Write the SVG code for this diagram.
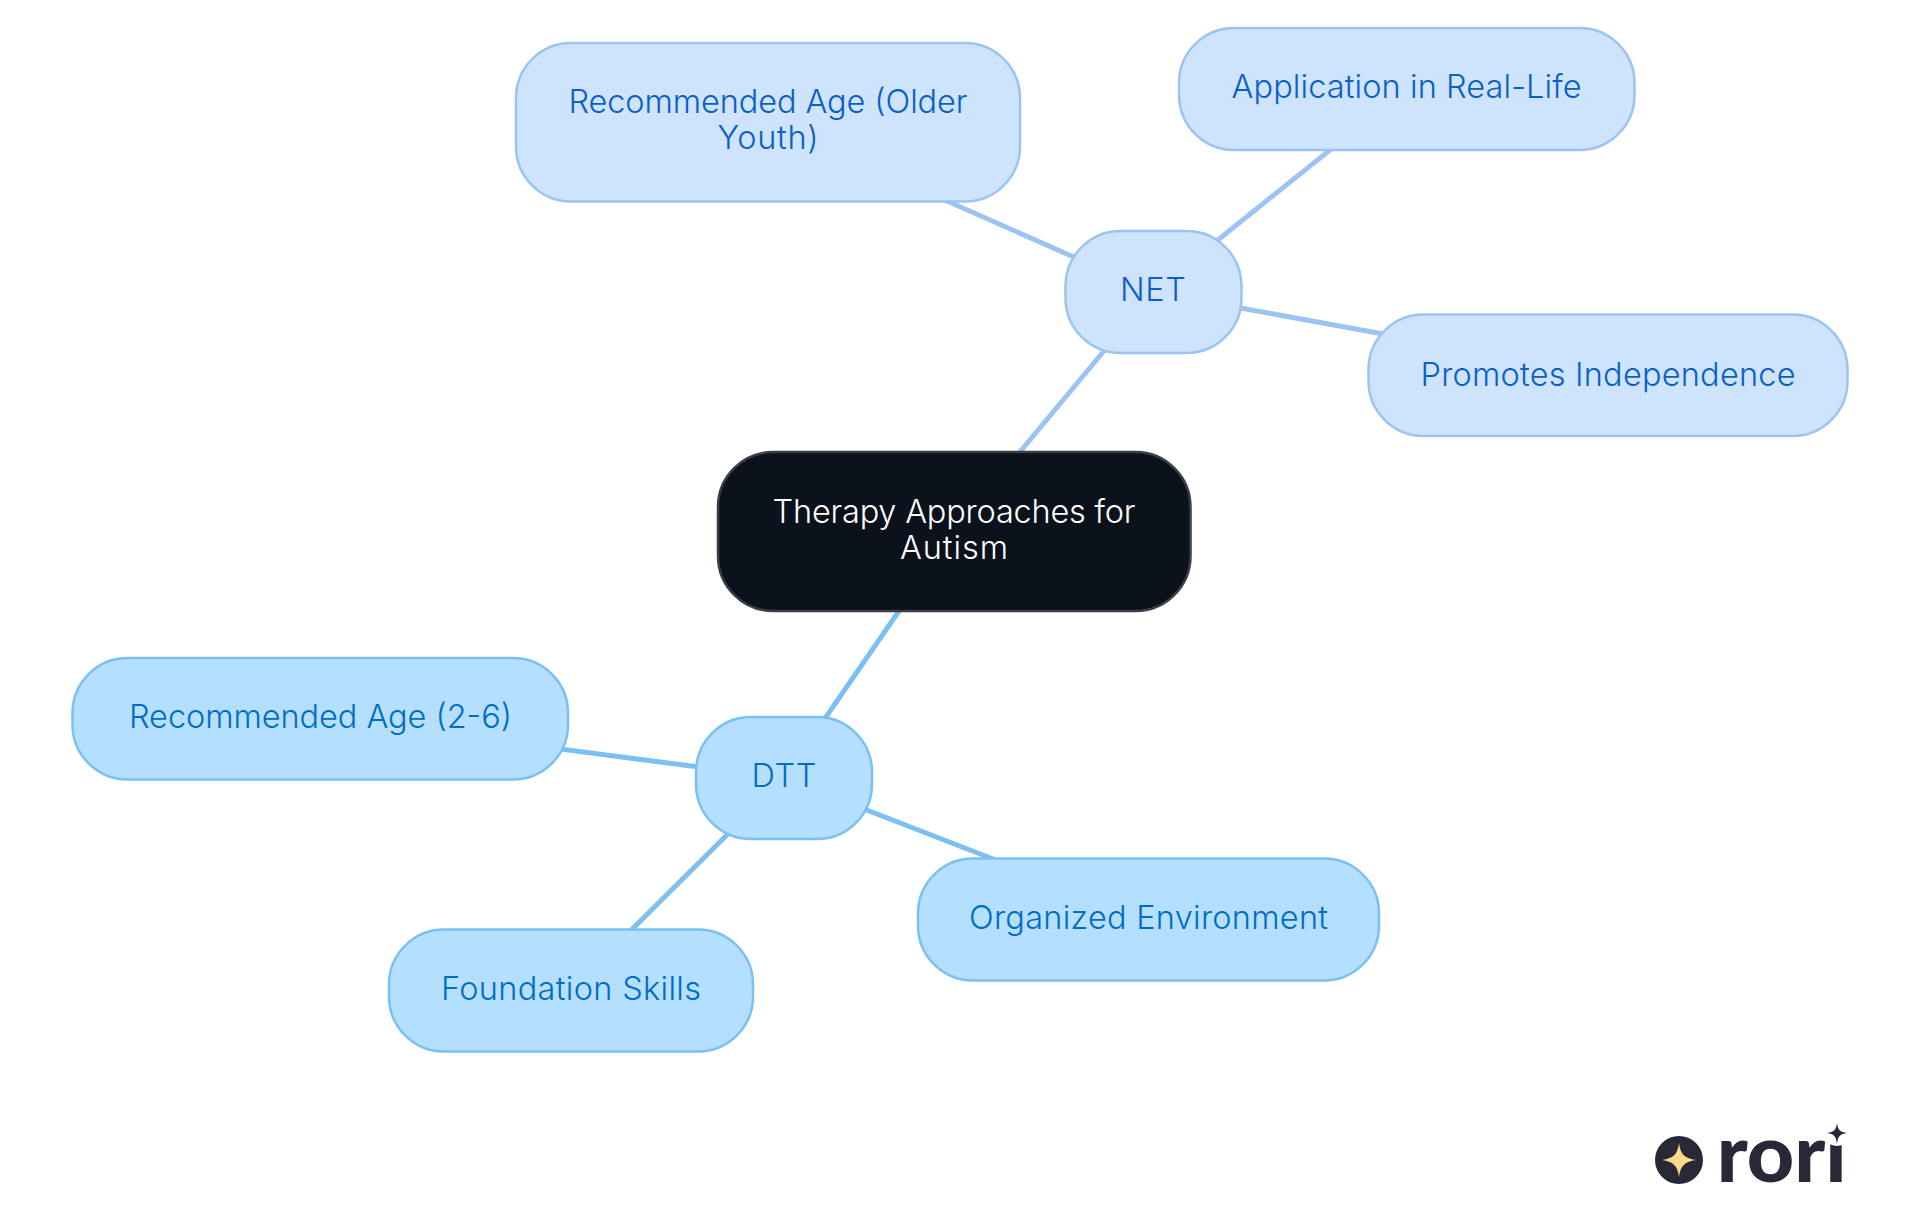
<svg xmlns="http://www.w3.org/2000/svg" width="1920" height="1215" viewBox="0 0 1920 1215">
<style>
text{font-family:"Inter","Noto Sans","Liberation Sans",sans-serif;font-size:32.5px;font-weight:300;text-anchor:middle}
.root rect{fill:#0b121b;stroke:#3a3f47;stroke-width:2.500}
.root text{fill:#ffffff}
.net rect{fill:#cee3fc;stroke:#9cc4f2;stroke-width:2.500}
.net text{fill:#0a5fc8}
.dtt rect{fill:#b5dfff;stroke:#7cc0f3;stroke-width:2.500}
.dtt text{fill:#006dc4}
.c-net{stroke:#9cc4f2;stroke-width:5;fill:none}
.c-dtt{stroke:#7cc0f3;stroke-width:5;fill:none}
.logo{fill:#282837}
</style>
<rect width="1920" height="1215" fill="#ffffff"/>
<g id="connectors">
<line class="c-net" x1="954" y1="531" x2="1153" y2="292"/>
<line class="c-net" x1="1153" y1="292" x2="768" y2="122"/>
<line class="c-net" x1="1153" y1="292" x2="1406" y2="89"/>
<line class="c-net" x1="1153" y1="292" x2="1608" y2="375"/>
<line class="c-dtt" x1="954" y1="531" x2="784" y2="778"/>
<line class="c-dtt" x1="784" y1="778" x2="320" y2="718"/>
<line class="c-dtt" x1="784" y1="778" x2="571" y2="990"/>
<line class="c-dtt" x1="784" y1="778" x2="1148" y2="919"/>
</g>
<g id="root" class="root">
<rect x="718" y="452" width="472.500" height="159" rx="55"/>
<text x="954" y="522.700" textLength="363">Therapy Approaches for</text>
<text x="954" y="559" textLength="108">Autism</text>
</g>
<g id="net" class="net">
<rect x="1065.500" y="231" width="176" height="122" rx="55"/>
<text x="1153" y="300.700" textLength="66">NET</text>
</g>
<g id="net-age" class="net">
<rect x="516" y="43" width="504" height="158.500" rx="55"/>
<text x="768" y="112.700" textLength="399">Recommended Age (Older</text>
<text x="768" y="149.300" textLength="101">Youth)</text>
</g>
<g id="net-application" class="net">
<rect x="1179" y="28" width="455.500" height="122" rx="55"/>
<text x="1406.500" y="97.700" textLength="350">Application in Real-Life</text>
</g>
<g id="net-independence" class="net">
<rect x="1368.500" y="314.500" width="479" height="121.500" rx="55"/>
<text x="1608" y="385.700" textLength="375">Promotes Independence</text>
</g>
<g id="dtt" class="dtt">
<rect x="696" y="717" width="176" height="122" rx="55"/>
<text x="784" y="786.700" textLength="65">DTT</text>
</g>
<g id="dtt-age" class="dtt">
<rect x="72.500" y="658" width="495.500" height="121.500" rx="55"/>
<text x="320.500" y="727.700" textLength="383">Recommended Age (2-6)</text>
</g>
<g id="dtt-foundation" class="dtt">
<rect x="389" y="929.500" width="364" height="122" rx="55"/>
<text x="571" y="1000" textLength="260">Foundation Skills</text>
</g>
<g id="dtt-environment" class="dtt">
<rect x="918" y="858.500" width="461" height="122" rx="55"/>
<text x="1148.500" y="929" textLength="359">Organized Environment</text>
</g>
<g id="logo">
<circle class="logo" cx="1679" cy="1160" r="24"/>
<path d="M1679 1143C1680.500 1154 1684 1158 1696 1160C1684 1162 1680.500 1166 1679 1177C1677.500 1166 1674 1162 1662 1160C1674 1158 1677.500 1154 1679 1143Z" fill="#fbd98a"/>
<text class="logo" x="1781.700" y="1181.700" textLength="130" lengthAdjust="spacingAndGlyphs" style="font-family:'Lato','Liberation Sans',sans-serif;font-size:80px;font-weight:900">rori</text>
<circle cx="1837" cy="1131" r="15" fill="#ffffff"/>
<path d="M1837 1123C1838 1130 1840 1132 1847 1133C1840 1134 1838 1136 1837 1144C1836 1136 1834 1134 1827 1133C1834 1132 1836 1130 1837 1123Z" class="logo"/>
</g>
</svg>
